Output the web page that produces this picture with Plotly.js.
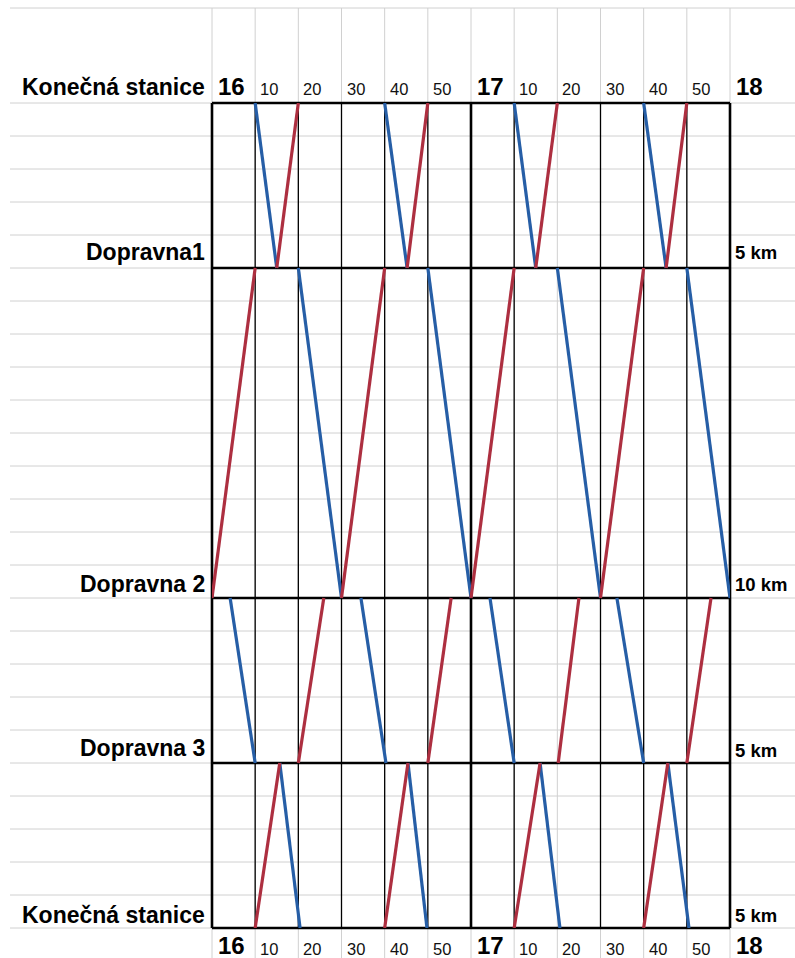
<!DOCTYPE html>
<html>
<head>
<meta charset="utf-8">
<script src="https://cdn.plot.ly/plotly-3.0.1.min.js"></script>
<style>
  html, body { margin: 0; padding: 0; background: #ffffff; }
  #chart { width: 795px; height: 958px; }
</style>
</head>
<body>
<div id="chart"></div>
<script>
// ---- data (minutes after 16:00, km from the first terminal) ----
const stationKm = [0, 5, 15, 20, 25];
const stationNames = ['Konečná stanice', 'Dopravna1', 'Dopravna 2', 'Dopravna 3', 'Konečná stanice'];
const sectionLengths = ['5 km', '10 km', '5 km', '5 km'];

const hourTicks = [0, 60, 120];
const hourLabels = ['16', '17', '18'];
const minuteTicks = [10, 20, 30, 40, 50, 70, 80, 90, 100, 110];
const minuteLabels = ['10', '20', '30', '40', '50', '10', '20', '30', '40', '50'];

// blue trains run down (stationKm[i] -> stationKm[i+1])
const blueDepart = [
  [10, 40, 70, 100],
  [20, 50, 80, 110],
  [4.2, 34.5, 64.4, 93.8],
  [15.7, 45.4, 76, 105.6]
];
const blueArrive = [
  [15, 45.2, 75, 105.2],
  [30, 60, 90, 120],
  [10, 40.3, 70, 100],
  [20.4, 49.8, 80.6, 110.5]
];
// red trains run up (stationKm[i+1] -> stationKm[i])
const redDepart = [
  [15, 45.2, 75, 105.2],
  [0, 30, 60, 90],
  [20, 50, 80.2, 110],
  [10, 40, 70, 100]
];
const redArrive = [
  [20, 50, 80, 110],
  [10, 40, 70, 100],
  [25.9, 55.4, 85, 115.6],
  [15.7, 45.4, 76, 105.6]
];

// ---- build traces ----
function buildPaths(dep, arr, down) {
  const x = [], y = [];
  for (let s = 0; s < dep.length; s++) {
    const fromKm = down ? stationKm[s] : stationKm[s + 1];
    const toKm = down ? stationKm[s + 1] : stationKm[s];
    for (let k = 0; k < dep[s].length; k++) {
      x.push(dep[s][k], arr[s][k], null);
      y.push(fromKm, toKm, null);
    }
  }
  return { x, y };
}
const bluePath = buildPaths(blueDepart, blueArrive, true);
const redPath = buildPaths(redDepart, redArrive, false);

const traces = [
  { type: 'scatter', mode: 'lines', x: bluePath.x, y: bluePath.y, connectgaps: false,
    line: { color: '#265ea6', width: 3.2 }, hoverinfo: 'skip', showlegend: false },
  { type: 'scatter', mode: 'lines', x: redPath.x, y: redPath.y, connectgaps: false,
    line: { color: '#ad2f40', width: 3.2 }, hoverinfo: 'skip', showlegend: false }
];

// ---- geometry of the sheet ----
const W = 795, H = 958;
const L = 212, R = 730, T = 103, B = 928;
const tMax = 120, kmMax = 25;
const px2paperX = px => (px - L) / (R - L);
const px2paperY = py => (B - py) / (B - T);

const shapes = [];
const gray = '#d0d0d0';
// gray sheet grid: verticals every 10 min across whole sheet
for (let t = 0; t <= tMax; t += 10) {
  shapes.push({ type: 'line', layer: 'below', xref: 'paper', yref: 'paper',
    x0: t / tMax, x1: t / tMax, y0: px2paperY(8), y1: px2paperY(H + 2),
    line: { color: gray, width: 1 } });
}
// gray horizontals every km, and the top sheet line
for (let km = 0; km <= kmMax; km += 1) {
  const yp = 1 - km / kmMax;
  shapes.push({ type: 'line', layer: 'below', xref: 'paper', yref: 'paper',
    x0: px2paperX(10), x1: px2paperX(W + 2), y0: yp, y1: yp,
    line: { color: gray, width: 1 } });
}
shapes.push({ type: 'line', layer: 'below', xref: 'paper', yref: 'paper',
  x0: px2paperX(10), x1: px2paperX(W + 2), y0: px2paperY(8), y1: px2paperY(8),
  line: { color: gray, width: 1 } });

// black thin verticals inside the chart (the 17:20 border is missing)
for (let t = 10; t < tMax; t += 10) {
  if (t % 60 === 0 || t === 80) continue;
  shapes.push({ type: 'line', layer: 'below', xref: 'paper', yref: 'paper',
    x0: t / tMax, x1: t / tMax, y0: 0, y1: 1,
    line: { color: '#000000', width: 1.3 } });
}
// thick hour lines
hourTicks.forEach(t => {
  shapes.push({ type: 'line', layer: 'below', xref: 'paper', yref: 'paper',
    x0: t / tMax, x1: t / tMax, y0: 0, y1: 1,
    line: { color: '#000000', width: 2.6 } });
});
// thick station lines
stationKm.forEach(km => {
  const yp = 1 - km / kmMax;
  shapes.push({ type: 'line', layer: 'below', xref: 'paper', yref: 'paper',
    x0: 0, x1: 1, y0: yp, y1: yp,
    line: { color: '#000000', width: 2.6 } });
});

// ---- text ----
const fam = 'Liberation Sans, Arial, Helvetica, sans-serif';
const annotations = [];
const stationLabelY = [87, 252, 584, 748, 915];
stationNames.forEach((name, i) => {
  annotations.push({ text: '<b>' + name + '</b>', xref: 'paper', yref: 'paper',
    x: 0, y: px2paperY(stationLabelY[i]), xanchor: 'right', yanchor: 'middle', xshift: -5,
    showarrow: false, font: { family: fam, size: 23, color: '#000000' } });
});
const sectionLabelY = [253, 584, 750, 915];
sectionLengths.forEach((txt, i) => {
  annotations.push({ text: '<b>' + txt + '</b>', xref: 'paper', yref: 'paper',
    x: 1, y: px2paperY(sectionLabelY[i]), xanchor: 'left', yanchor: 'middle', xshift: 3,
    showarrow: false, font: { family: fam, size: 18.5, color: '#000000' } });
});
[86, 946].forEach(py => {
  hourTicks.forEach((t, i) => {
    annotations.push({ text: '<b>' + hourLabels[i] + '</b>', xref: 'x', yref: 'paper',
      x: t, y: px2paperY(py), xanchor: 'left', yanchor: 'middle', xshift: 4,
      showarrow: false, font: { family: fam, size: 24, color: '#000000' } });
  });
});
[88.5, 949].forEach(py => {
  minuteTicks.forEach((t, i) => {
    annotations.push({ text: minuteLabels[i], xref: 'x', yref: 'paper',
      x: t, y: px2paperY(py), xanchor: 'left', yanchor: 'middle', xshift: 3,
      showarrow: false, font: { family: fam, size: 16.5, color: '#111111' } });
  });
});

const layout = {
  width: W, height: H,
  margin: { l: L, r: W - R, t: T, b: H - B, pad: 0 },
  paper_bgcolor: '#ffffff', plot_bgcolor: 'rgba(0,0,0,0)',
  showlegend: false,
  xaxis: { range: [0, tMax], showgrid: false, zeroline: false, showticklabels: false,
           ticks: '', showline: false, automargin: false, fixedrange: true },
  yaxis: { range: [kmMax, 0], showgrid: false, zeroline: false, showticklabels: false,
           ticks: '', showline: false, automargin: false, fixedrange: true },
  shapes: shapes,
  annotations: annotations
};

Plotly.newPlot('chart', traces, layout, { displayModeBar: false, staticPlot: true });
</script>
</body>
</html>
